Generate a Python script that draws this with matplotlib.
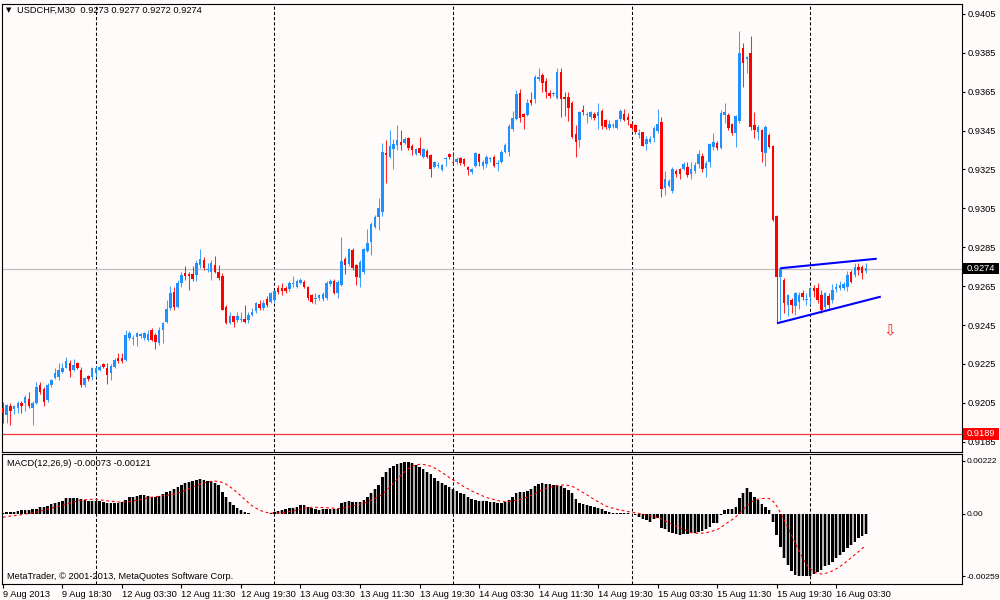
import matplotlib
matplotlib.use("Agg")
import matplotlib.pyplot as plt
import matplotlib.transforms as mtransforms
from matplotlib.patches import Rectangle
import numpy as np

# ---------------- data ----------------
opens = [
    0.92022, 0.91988, 0.92031, 0.92016, 0.92022, 0.92051, 0.92048, 0.92068, 0.92025, 0.92051,
    0.92139, 0.92121, 0.92065, 0.92142, 0.92176, 0.92181, 0.92207, 0.92231, 0.92257, 0.92219,
    0.92257, 0.92219, 0.92142, 0.92188, 0.92181, 0.92202, 0.92219, 0.92248, 0.92228, 0.92202,
    0.92236, 0.92279, 0.92279, 0.92271, 0.92382, 0.92380, 0.92386, 0.92391, 0.92382, 0.92373,
    0.92425, 0.92399, 0.92356, 0.92425, 0.92463, 0.92536, 0.92622, 0.92545, 0.92665, 0.92717,
    0.92711, 0.92711, 0.92708, 0.92759, 0.92785, 0.92732, 0.92725, 0.92759, 0.92725, 0.92704,
    0.92545, 0.92459, 0.92494, 0.92476, 0.92476, 0.92480, 0.92476, 0.92502, 0.92520, 0.92560,
    0.92536, 0.92584, 0.92570, 0.92579, 0.92642, 0.92639, 0.92639, 0.92634, 0.92659, 0.92647,
    0.92664, 0.92673, 0.92647, 0.92604, 0.92585, 0.92587, 0.92584, 0.92587, 0.92659, 0.92676,
    0.92613, 0.92655, 0.92790, 0.92764, 0.92836, 0.92759, 0.92690, 0.92721, 0.92832, 0.92877,
    0.92956, 0.93007, 0.93033, 0.93337, 0.93316, 0.93354, 0.93376, 0.93393, 0.93385, 0.93414,
    0.93373, 0.93330, 0.93359, 0.93316, 0.93346, 0.93325, 0.93265, 0.93267, 0.93247, 0.93302,
    0.93328, 0.93290, 0.93290, 0.93308, 0.93302, 0.93265, 0.93239, 0.93270, 0.93328, 0.93268,
    0.93277, 0.93302, 0.93316, 0.93280, 0.93290, 0.93342, 0.93342, 0.93458, 0.93510, 0.93642,
    0.93534, 0.93530, 0.93608, 0.93613, 0.93716, 0.93736, 0.93705, 0.93642, 0.93640, 0.93616,
    0.93753, 0.93625, 0.93625, 0.93590, 0.93433, 0.93402, 0.93554, 0.93532, 0.93522, 0.93534,
    0.93525, 0.93551, 0.93503, 0.93462, 0.93473, 0.93462, 0.93510, 0.93534, 0.93522, 0.93482,
    0.93479, 0.93427, 0.93441, 0.93380, 0.93390, 0.93410, 0.93448, 0.93493, 0.93157, 0.93167,
    0.93139, 0.93242, 0.93251, 0.93253, 0.93265, 0.93225, 0.93242, 0.93277, 0.93319, 0.93256,
    0.93290, 0.93367, 0.93385, 0.93359, 0.93530, 0.93530, 0.93484, 0.93436, 0.93501, 0.93873,
    0.93817, 0.93848, 0.93479, 0.93445, 0.93453, 0.93333, 0.93427, 0.93371, 0.93011, 0.92699,
    0.92682, 0.92553, 0.92579, 0.92548, 0.92570, 0.92613, 0.92578, 0.92596, 0.92642, 0.92639,
    0.92605, 0.92544, 0.92599, 0.92579, 0.92634, 0.92639, 0.92639, 0.92647, 0.92724, 0.92707,
    0.92750, 0.92750, 0.92730,
]
highs = [
    0.92056, 0.92044, 0.92048, 0.92040, 0.92060, 0.92060, 0.92091, 0.92108, 0.92060, 0.92159,
    0.92159, 0.92130, 0.92151, 0.92171, 0.92228, 0.92253, 0.92257, 0.92288, 0.92271, 0.92274,
    0.92262, 0.92236, 0.92185, 0.92193, 0.92236, 0.92240, 0.92245, 0.92253, 0.92253, 0.92250,
    0.92279, 0.92305, 0.92305, 0.92425, 0.92421, 0.92399, 0.92416, 0.92411, 0.92416, 0.92425,
    0.92434, 0.92408, 0.92439, 0.92468, 0.92579, 0.92651, 0.92648, 0.92682, 0.92725, 0.92751,
    0.92725, 0.92751, 0.92785, 0.92840, 0.92802, 0.92768, 0.92785, 0.92806, 0.92759, 0.92717,
    0.92553, 0.92519, 0.92497, 0.92519, 0.92519, 0.92553, 0.92519, 0.92536, 0.92570, 0.92578,
    0.92579, 0.92600, 0.92620, 0.92630, 0.92655, 0.92668, 0.92650, 0.92675, 0.92702, 0.92685,
    0.92690, 0.92680, 0.92650, 0.92610, 0.92613, 0.92610, 0.92622, 0.92675, 0.92685, 0.92685,
    0.92680, 0.92905, 0.92802, 0.92845, 0.92845, 0.92765, 0.92785, 0.92845, 0.92942, 0.92980,
    0.93015, 0.93102, 0.93388, 0.93402, 0.93453, 0.93405, 0.93479, 0.93453, 0.93419, 0.93419,
    0.93380, 0.93360, 0.93416, 0.93360, 0.93355, 0.93330, 0.93295, 0.93290, 0.93280, 0.93316,
    0.93337, 0.93333, 0.93316, 0.93313, 0.93308, 0.93270, 0.93260, 0.93340, 0.93335, 0.93300,
    0.93325, 0.93316, 0.93325, 0.93300, 0.93350, 0.93385, 0.93482, 0.93550, 0.93660, 0.93665,
    0.93540, 0.93610, 0.93650, 0.93736, 0.93770, 0.93745, 0.93720, 0.93660, 0.93650, 0.93770,
    0.93770, 0.93650, 0.93650, 0.93600, 0.93480, 0.93550, 0.93580, 0.93545, 0.93550, 0.93545,
    0.93590, 0.93560, 0.93510, 0.93505, 0.93490, 0.93510, 0.93560, 0.93560, 0.93540, 0.93495,
    0.93485, 0.93460, 0.93445, 0.93420, 0.93420, 0.93475, 0.93560, 0.93520, 0.93240, 0.93200,
    0.93265, 0.93250, 0.93260, 0.93290, 0.93290, 0.93290, 0.93290, 0.93350, 0.93333, 0.93295,
    0.93385, 0.93436, 0.93395, 0.93556, 0.93590, 0.93539, 0.93490, 0.93530, 0.93964, 0.93899,
    0.93831, 0.93937, 0.93548, 0.93479, 0.93460, 0.93479, 0.93436, 0.93375, 0.93015, 0.92750,
    0.92690, 0.92610, 0.92587, 0.92622, 0.92622, 0.92630, 0.92613, 0.92647, 0.92656, 0.92664,
    0.92630, 0.92622, 0.92613, 0.92661, 0.92664, 0.92678, 0.92670, 0.92730, 0.92733, 0.92771,
    0.92767, 0.92759, 0.92770,
]
lows = [
    0.91948, 0.91948, 0.91936, 0.91990, 0.91996, 0.91996, 0.92010, 0.92022, 0.91936, 0.92045,
    0.92096, 0.92036, 0.92056, 0.92133, 0.92171, 0.92168, 0.92202, 0.92228, 0.92185, 0.92211,
    0.92223, 0.92133, 0.92130, 0.92164, 0.92168, 0.92185, 0.92214, 0.92231, 0.92147, 0.92168,
    0.92228, 0.92257, 0.92257, 0.92267, 0.92373, 0.92348, 0.92343, 0.92382, 0.92373, 0.92370,
    0.92370, 0.92325, 0.92348, 0.92356, 0.92459, 0.92528, 0.92528, 0.92536, 0.92648, 0.92682,
    0.92631, 0.92674, 0.92674, 0.92742, 0.92734, 0.92725, 0.92679, 0.92717, 0.92682, 0.92528,
    0.92456, 0.92456, 0.92439, 0.92468, 0.92463, 0.92459, 0.92459, 0.92494, 0.92510, 0.92527,
    0.92527, 0.92544, 0.92565, 0.92570, 0.92610, 0.92604, 0.92615, 0.92627, 0.92647, 0.92640,
    0.92660, 0.92640, 0.92580, 0.92562, 0.92560, 0.92580, 0.92575, 0.92580, 0.92650, 0.92610,
    0.92587, 0.92650, 0.92711, 0.92755, 0.92735, 0.92655, 0.92647, 0.92710, 0.92825, 0.92810,
    0.92950, 0.92939, 0.93011, 0.93182, 0.93308, 0.93251, 0.93351, 0.93351, 0.93380, 0.93351,
    0.93325, 0.93325, 0.93325, 0.93310, 0.93310, 0.93213, 0.93260, 0.93256, 0.93240, 0.93268,
    0.93305, 0.93275, 0.93278, 0.93275, 0.93270, 0.93222, 0.93225, 0.93265, 0.93268, 0.93253,
    0.93265, 0.93290, 0.93265, 0.93242, 0.93282, 0.93335, 0.93320, 0.93450, 0.93505, 0.93495,
    0.93460, 0.93525, 0.93580, 0.93590, 0.93705, 0.93650, 0.93620, 0.93616, 0.93630, 0.93610,
    0.93520, 0.93525, 0.93500, 0.93410, 0.93315, 0.93365, 0.93530, 0.93490, 0.93510, 0.93505,
    0.93460, 0.93460, 0.93460, 0.93455, 0.93465, 0.93458, 0.93500, 0.93500, 0.93480, 0.93455,
    0.93430, 0.93410, 0.93370, 0.93350, 0.93385, 0.93390, 0.93440, 0.93110, 0.93120, 0.93160,
    0.93130, 0.93210, 0.93200, 0.93245, 0.93210, 0.93200, 0.93230, 0.93260, 0.93239, 0.93213,
    0.93264, 0.93350, 0.93350, 0.93355, 0.93487, 0.93453, 0.93427, 0.93367, 0.93487, 0.93676,
    0.93745, 0.93453, 0.93410, 0.93402, 0.93290, 0.93270, 0.93359, 0.92985, 0.92458, 0.92476,
    0.92510, 0.92496, 0.92510, 0.92501, 0.92530, 0.92579, 0.92553, 0.92553, 0.92596, 0.92561,
    0.92513, 0.92531, 0.92527, 0.92561, 0.92622, 0.92630, 0.92630, 0.92627, 0.92664, 0.92699,
    0.92707, 0.92685, 0.92720,
]
closes = [
    0.91996, 0.92039, 0.92010, 0.92031, 0.92048, 0.92036, 0.92079, 0.92036, 0.92051, 0.92133,
    0.92104, 0.92056, 0.92142, 0.92168, 0.92202, 0.92219, 0.92231, 0.92267, 0.92214, 0.92245,
    0.92228, 0.92139, 0.92176, 0.92171, 0.92228, 0.92231, 0.92236, 0.92236, 0.92193, 0.92240,
    0.92271, 0.92267, 0.92265, 0.92399, 0.92408, 0.92382, 0.92411, 0.92403, 0.92408, 0.92403,
    0.92373, 0.92365, 0.92425, 0.92459, 0.92531, 0.92614, 0.92545, 0.92665, 0.92708, 0.92703,
    0.92703, 0.92686, 0.92768, 0.92789, 0.92742, 0.92736, 0.92768, 0.92725, 0.92691, 0.92528,
    0.92459, 0.92497, 0.92468, 0.92497, 0.92480, 0.92468, 0.92502, 0.92519, 0.92561, 0.92540,
    0.92565, 0.92553, 0.92613, 0.92625, 0.92622, 0.92625, 0.92627, 0.92668, 0.92662, 0.92678,
    0.92681, 0.92644, 0.92587, 0.92570, 0.92589, 0.92604, 0.92607, 0.92668, 0.92678, 0.92617,
    0.92673, 0.92779, 0.92759, 0.92839, 0.92742, 0.92698, 0.92776, 0.92839, 0.92870, 0.92970,
    0.93007, 0.93050, 0.93342, 0.93325, 0.93371, 0.93381, 0.93402, 0.93376, 0.93405, 0.93359,
    0.93351, 0.93354, 0.93333, 0.93354, 0.93316, 0.93251, 0.93290, 0.93270, 0.93273, 0.93305,
    0.93313, 0.93282, 0.93302, 0.93282, 0.93277, 0.93247, 0.93253, 0.93333, 0.93287, 0.93290,
    0.93316, 0.93305, 0.93270, 0.93283, 0.93342, 0.93376, 0.93476, 0.93517, 0.93637, 0.93517,
    0.93522, 0.93590, 0.93590, 0.93728, 0.93728, 0.93693, 0.93650, 0.93630, 0.93642, 0.93753,
    0.93613, 0.93613, 0.93568, 0.93419, 0.93390, 0.93544, 0.93544, 0.93535, 0.93544, 0.93513,
    0.93544, 0.93476, 0.93470, 0.93482, 0.93475, 0.93505, 0.93551, 0.93505, 0.93505, 0.93462,
    0.93441, 0.93436, 0.93373, 0.93407, 0.93407, 0.93462, 0.93482, 0.93150, 0.93201, 0.93191,
    0.93253, 0.93229, 0.93225, 0.93277, 0.93222, 0.93253, 0.93273, 0.93328, 0.93251, 0.93285,
    0.93381, 0.93393, 0.93359, 0.93542, 0.93548, 0.93462, 0.93436, 0.93525, 0.93848, 0.93796,
    0.93827, 0.93470, 0.93453, 0.93467, 0.93342, 0.93467, 0.93367, 0.92990, 0.92699, 0.92742,
    0.92561, 0.92605, 0.92553, 0.92613, 0.92605, 0.92596, 0.92581, 0.92639, 0.92627, 0.92579,
    0.92527, 0.92613, 0.92553, 0.92630, 0.92647, 0.92656, 0.92661, 0.92707, 0.92673, 0.92750,
    0.92733, 0.92716, 0.92742,
]

# MACD(12,26,9) main histogram and signal line, in units of 1e-5
macd_main_e5 = [
    6, 7, 8, 10, 13, 15, 17, 17, 19, 22,
    28, 31, 33, 40, 44, 50, 56, 65, 67, 67,
    65, 61, 58, 56, 54, 53, 53, 50, 47, 47,
    47, 47, 50, 58, 69, 72, 75, 78, 79, 76,
    72, 72, 75, 82, 92, 97, 103, 114, 121, 128,
    133, 136, 142, 144, 142, 139, 136, 131, 119, 93,
    69, 51, 36, 24, 17, 10, 4, 1, 0, -1,
    -1, 0, 3, 10, 13, 17, 21, 24, 26, 31,
    36, 38, 31, 24, 19, 17, 19, 21, 22, 21,
    22, 44, 51, 54, 51, 49, 51, 58, 72, 89,
    103, 121, 153, 176, 190, 200, 208, 214, 218, 217,
    211, 204, 197, 188, 176, 165, 149, 139, 128, 119,
    111, 106, 97, 89, 82, 72, 62, 60, 56, 54,
    53, 51, 50, 47, 47, 51, 58, 72, 86, 90,
    93, 97, 103, 117, 125, 128, 126, 124, 121, 122,
    117, 110, 100, 86, 62, 44, 42, 38, 33, 28,
    25, 19, 14, 10, 6, 4, 6, 4, 3, 0,
    -6, -11, -19, -25, -32, -22, -18, -60, -64, -76,
    -81, -83, -88, -85, -82, -81, -78, -74, -71, -64,
    -56, -39, -36, -4, 17, 19, 22, 31, 65, 89,
    107, 93, 72, 58, 42, 31, 17, -32, -88, -136,
    -185, -212, -236, -254, -258, -259, -259, -257, -252, -244,
    -233, -219, -212, -199, -185, -171, -157, -143, -129, -115,
    -101, -92, -82,
]
macd_signal_e5 = [
    -14, -11, -9, -7, -5, -3, 0, 2, 5, 8,
    12, 16, 20, 24, 28, 32, 36, 41, 46, 50,
    54, 57, 59, 61, 61, 61, 59, 57, 55, 53,
    52, 50, 50, 50, 52, 54, 57, 60, 64, 67,
    70, 72, 74, 76, 78, 80, 83, 87, 92, 98,
    105, 112, 118, 124, 129, 133, 136, 137, 136, 131,
    124, 114, 102, 89, 75, 61, 47, 34, 24, 16,
    10, 6, 4, 3, 3, 5, 7, 10, 13, 16,
    20, 24, 26, 28, 28, 27, 27, 26, 25, 24,
    22, 23, 26, 30, 34, 37, 41, 45, 50, 58,
    64, 72, 83, 97, 113, 129, 146, 162, 176, 189,
    199, 204, 207, 206, 204, 199, 192, 183, 173, 163,
    152, 142, 132, 123, 113, 105, 96, 89, 82, 75,
    69, 64, 60, 56, 53, 52, 52, 54, 57, 61,
    66, 71, 77, 85, 93, 101, 107, 111, 115, 118,
    120, 121, 119, 115, 108, 98, 89, 80, 70, 60,
    51, 42, 34, 28, 24, 20, 16, 13, 10, 7,
    5, 2, -1, -5, -9, -12, -14, -21, -29, -36,
    -44, -51, -58, -64, -71, -78, -80, -81, -80, -78,
    -75, -70, -65, -56, -45, -34, -24, -12, 2, 18,
    34, 49, 57, 62, 64, 65, 64, 53, 33, 6,
    -25, -56, -89, -122, -154, -184, -210, -228, -241, -248,
    -250, -248, -244, -237, -229, -219, -208, -196, -183, -170,
    -157, -144, -131,
]

time_tick_bars = [0, 16, 32, 48, 64, 80, 96, 112, 128, 144, 160, 176, 192, 208, 224]
time_tick_labels = ["9 Aug 2013", "9 Aug 18:30", "12 Aug 03:30", "12 Aug 11:30",
                    "12 Aug 19:30", "13 Aug 03:30", "13 Aug 11:30", "13 Aug 19:30",
                    "14 Aug 03:30", "14 Aug 11:30", "14 Aug 19:30", "15 Aug 03:30",
                    "15 Aug 11:30", "15 Aug 19:30", "16 Aug 03:30"]
day_grid_bars = [25, 73, 121, 169, 217]
price_ticks = [0.9405, 0.9385, 0.9365, 0.9345, 0.9325, 0.9305, 0.9285,
               0.9265, 0.9245, 0.9225, 0.9205, 0.9185]
macd_ticks = [0.00222, 0.0, -0.00259]
macd_tick_labels = ["0.00222", "0.00", "-0.00259"]
bid_price = 0.9274
level_price = 0.9189
upper_line_bars = [209.0, 234.9]
upper_line_prices = [0.92742, 0.92791]
lower_line_bars = [208.1, 236.0]
lower_line_prices = [0.92459, 0.92596]
arrow_bar = 238.5
arrow_price = 0.92419
header_text = "USDCHF,M30  0.9273 0.9277 0.9272 0.9274"
macd_text = "MACD(12,26,9) -0.00073 -0.00121"
footer_text = "MetaTrader, \u00a9 2001-2013, MetaQuotes Software Corp."

# ---------------- style ----------------
BG = "#FFFBFA"
BLUE = "#1E90FF"
RED = "#FF0000"
FONT = "Liberation Sans"
FS = 6.7
FS_MACD = 6.0
plt.rcParams["font.family"] = [FONT, "DejaVu Sans"]

W, H = 1000, 600
def fx(px):
    return px / W
def fy(py):
    return 1 - py / H

L_PX, R_PX = 2.3, 962.0
BAR0_PX, STEP_PX = 2.9, 3.72
xmin = (L_PX - BAR0_PX) / STEP_PX
xmax = (R_PX - BAR0_PX) / STEP_PX

fig = plt.figure(figsize=(10, 6), dpi=100, facecolor=BG)
ax = fig.add_axes([fx(L_PX), fy(452), fx(R_PX - L_PX), (452 - 4) / H], facecolor=BG)
ax2 = fig.add_axes([fx(L_PX), fy(584), fx(R_PX - L_PX), (584 - 454) / H], facecolor=BG)

o = np.array(opens); h = np.array(highs); l = np.array(lows); c = np.array(closes)
x = np.arange(len(c))
up = c >= o
cols = np.where(up, BLUE, RED)

# grid
for a in (ax, ax2):
    for b in day_grid_bars:
        a.axvline(b, color="black", lw=0.75, dashes=(3, 2), zorder=1)

# price lines
ax.axhline(bid_price, color="#C0C0C0", lw=0.9, zorder=2)
ax.axhline(level_price, color="#F03838", lw=0.9, zorder=2)

# candles
ax.vlines(x, l, h, colors=cols, linewidth=0.75, alpha=0.85, zorder=3)
body_lo = np.minimum(o, c)
body_h = np.maximum(np.abs(c - o), 0.00005)
ax.bar(x, body_h, bottom=body_lo, width=0.68, color=cols, linewidth=0, zorder=4)

# trend lines
ax.plot(upper_line_bars, upper_line_prices, color="#0000FF", lw=1.5, zorder=5,
        solid_capstyle="butt")
ax.plot(lower_line_bars, lower_line_prices, color="#0000FF", lw=1.5, zorder=5,
        solid_capstyle="butt")
ax.text(arrow_bar, arrow_price, "\u21e9", color="#FF2020", fontsize=11,
        family="DejaVu Sans", ha="center", va="center", zorder=6)

ax.set_xlim(xmin, xmax)
ax.set_ylim(0.91797, 0.94101)
ax.set_yticks(price_ticks)
ax.set_yticklabels(["%.4f" % p for p in price_ticks])
ax.tick_params(axis="x", bottom=False, labelbottom=False)
ax.tick_params(axis="y", left=False, labelleft=False, right=True, labelright=True,
               direction="out", length=2.2, width=0.8, pad=2, labelsize=FS, colors="black")

# right-side price tags
blend = mtransforms.blended_transform_factory(ax.transAxes, ax.transData)
for val, fc in ((bid_price, "black"), (level_price, "#FF0000")):
    ax.add_patch(Rectangle((1.0008, val - 0.00030), 0.0375, 0.00060, transform=blend,
                           facecolor=fc, edgecolor="none", clip_on=False, zorder=10))
    ax.text(1.0050, val, "%.4f" % val, transform=blend, ha="left", va="center",
            color="white", fontsize=FS, clip_on=False, zorder=11)

# MACD panel
hist = np.array(macd_main_e5) * 1e-5
sig = np.array(macd_signal_e5) * 1e-5
ax2.bar(x, hist, width=0.92, color="#B4B4B4", linewidth=0, zorder=2)
ax2.bar(x, hist, width=0.64, color="black", linewidth=0, zorder=3)
ax2.plot(x, sig, color="#FF0000", lw=0.8, dashes=(2.5, 2.5), zorder=4)
ax2.set_xlim(xmin, xmax)
ax2.set_ylim(-0.00292, 0.00250)
ax2.set_yticks(macd_ticks)
ax2.set_yticklabels(macd_tick_labels)
ax2.tick_params(axis="y", left=False, labelleft=False, right=True, labelright=True,
                direction="out", length=2.2, width=0.8, pad=1.2, labelsize=FS_MACD,
                colors="black")
ax2.set_xticks(time_tick_bars)
ax2.set_xticklabels(time_tick_labels)
ax2.tick_params(axis="x", direction="out", length=3, width=0.8, pad=1,
                labelsize=FS, colors="black")
for lbl in ax2.get_xticklabels():
    lbl.set_horizontalalignment("left")

for a in (ax, ax2):
    for s in a.spines.values():
        s.set_color("black")
        s.set_linewidth(0.8)

# texts
fig.text(fx(5.5), fy(10.5), "\u25bc", fontsize=5, family="DejaVu Sans",
         ha="left", va="center", color="black")
fig.text(fx(17), fy(10), header_text, fontsize=FS, ha="left", va="center", color="black")
fig.text(fx(7), fy(463), macd_text, fontsize=FS, ha="left", va="center", color="black")
fig.text(fx(7), fy(576.5), footer_text, fontsize=FS, ha="left", va="center", color="black")

fig.savefig("out.png", dpi=100, facecolor=BG)
